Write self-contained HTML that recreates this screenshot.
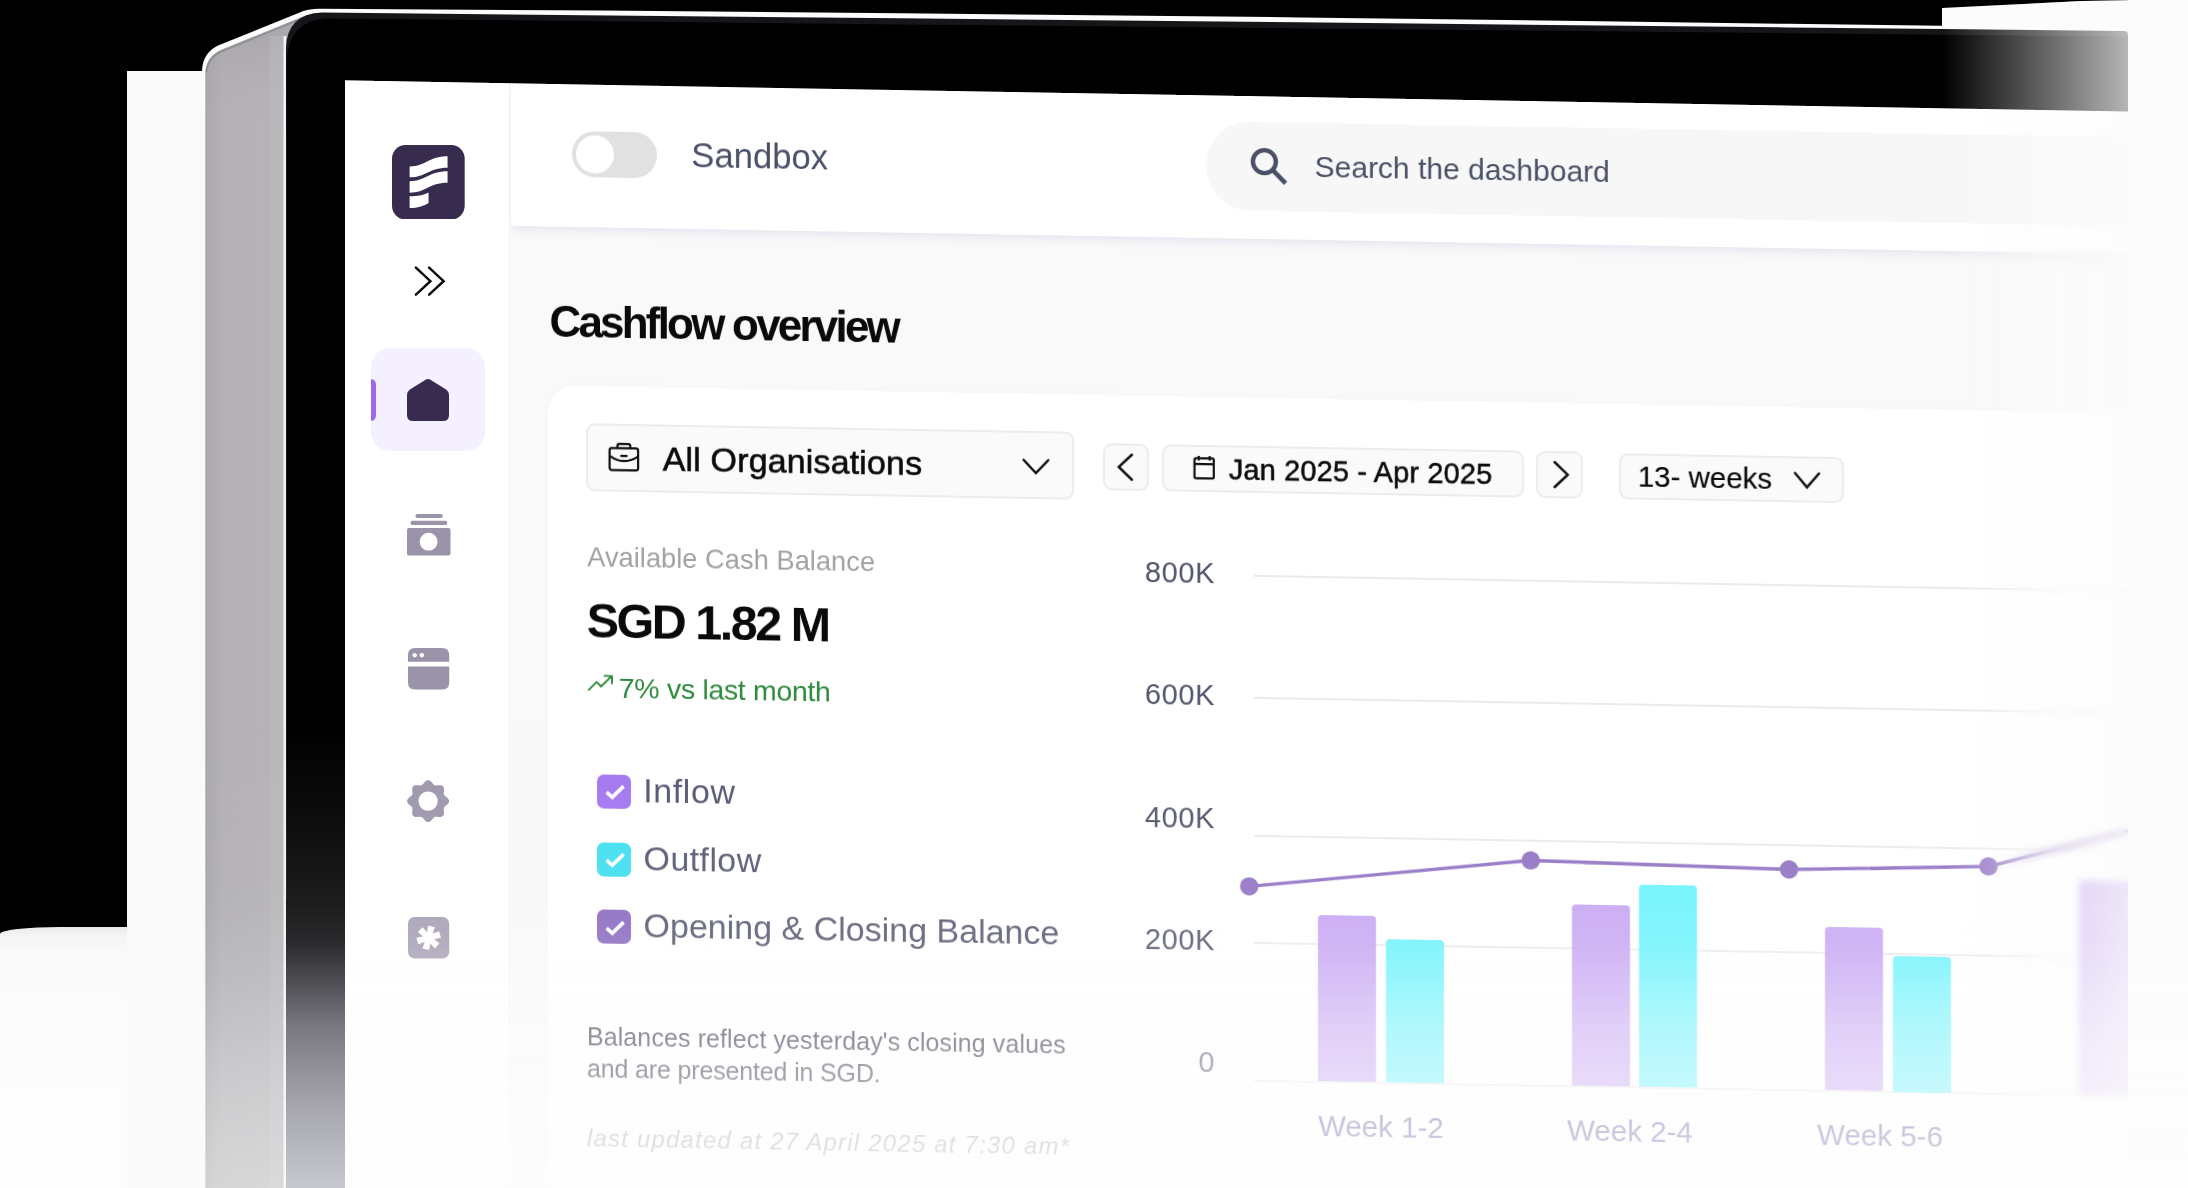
<!DOCTYPE html>
<html>
<head>
<meta charset="utf-8">
<style>
html,body{margin:0;padding:0;width:2188px;height:1188px;overflow:hidden;}
#stage{position:absolute;left:0;top:0;width:2188px;height:1188px;overflow:hidden;background:#000;}
body{width:2188px;height:1188px;overflow:hidden;position:relative;background:#000;font-family:"Liberation Sans",sans-serif;}
.abs{position:absolute;}
#screen{will-change:transform;position:absolute;left:345px;top:80px;width:1800px;height:1130px;transform-origin:0 0;transform:skewY(1deg);background:#fff;overflow:hidden;}
.t{position:absolute;white-space:nowrap;line-height:1;}
/* baseline helper: element top = baseline - 0.905*fs (Liberation Sans ascent .905, descent .212 ; with line-height:1 content box is centred) */
#sidebar{position:absolute;left:0;top:0;width:164px;height:1130px;background:#fff;border-right:1.5px solid #f1f1f3;}
#topbar{position:absolute;left:165.5px;top:0;width:1640px;height:142.8px;background:#fff;box-shadow:0 2px 10px rgba(125,115,185,0.19);}
#main{position:absolute;left:165.5px;top:140px;width:1640px;height:1004px;background:#f9f9f9;}
#card{position:absolute;left:203px;top:302px;width:1640px;height:900px;background:#fff;border-radius:28px;box-shadow:0 0 12px rgba(0,0,0,0.015);}
.btn{position:absolute;background:#fafafa;border:2px solid #ececec;border-radius:9px;box-sizing:border-box;}
.cb{position:absolute;width:34.2px;height:34px;border-radius:7px;margin-left:-0.5px;margin-top:-0.4px;}
.grid{position:absolute;left:909px;width:900px;height:2px;background:#ebebeb;}
.bar{position:absolute;width:58px;border-radius:4px 4px 0 0;}
.bp{background:#c7a6f3;}
.bc{background:#6cf3fc;}
.ylab{position:absolute;white-space:nowrap;line-height:1;font-size:29px;color:#50546c;text-align:right;width:120px;left:750px;letter-spacing:0.6px;}
.wk{position:absolute;white-space:nowrap;line-height:1;font-size:29.5px;color:#564c9a;}
.leg{position:absolute;white-space:nowrap;line-height:1;font-size:34px;color:#54576f;left:299.5px;letter-spacing:0.25px;}
</style>
</head>
<body>
<div id="stage">

<!-- background plates behind the laptop -->
<div class="abs" style="left:127px;top:71px;width:90px;height:1117px;background:#fafafa;"></div>
<div class="abs" style="left:0;top:927px;width:127px;height:261px;background:linear-gradient(to bottom,#e9e9e9 0px,#f4f4f4 8px,#f9f9f9 25px,#fbfbfb 70px,#fdfdfd 180px);border-radius:60px 0 0 0 / 7px 0 0 0;"></div>
<div class="abs" style="left:1942px;top:0;width:246px;height:1188px;background:#fcfcfc;clip-path:polygon(0 8px,40px 6px,140px 1px,246px 0,246px 1188px,0 1188px);"></div>

<!-- laptop body -->
<svg class="abs" style="left:0;top:0" width="2188" height="1188" viewBox="0 0 2188 1188">
  <defs>
    <linearGradient id="sideg" x1="0" y1="0" x2="1" y2="0">
      <stop offset="0" stop-color="#a9a7aa"/>
      <stop offset="0.12" stop-color="#b3b1b4"/>
      <stop offset="0.8" stop-color="#b7b5b8"/>
      <stop offset="0.82" stop-color="#c1bfc2"/>
      <stop offset="1" stop-color="#c6c4c7"/>
    </linearGradient>
    <linearGradient id="bezelg" x1="0" y1="900" x2="0" y2="1188" gradientUnits="userSpaceOnUse">
      <stop offset="0" stop-color="#000000"/>
      <stop offset="0.58" stop-color="#030012"/>
      <stop offset="1" stop-color="#020022"/>
    </linearGradient>
    <linearGradient id="sidetop" x1="0" y1="0" x2="0" y2="1">
      <stop offset="0" stop-color="#8c8a8e"/>
      <stop offset="1" stop-color="#b3b1b4" stop-opacity="0"/>
    </linearGradient>
  </defs>
  <!-- silver outline of the lid (top edge) -->
  <path d="M202 1188 L202 71 Q202.5 53.5 217.5 45.8 L298.5 12.9 Q308 8.6 320 8.7 L600 10.6 L900 13.2 L1300 17.4 L1600 21.2 L1788 23.8 L1942 25.8 L2128 28.3 L2128 40 L330 40 L330 110 L202 110 Z" fill="#fcfcfc"/>
  <!-- gray side -->
  <path d="M205.3 1188 L205.3 73 Q206 57.5 220 50.3 L301 17.2 Q309 13.3 320 13.2 L335 13.3 L335 110 L286 110 L286 1188 Z" fill="url(#sideg)"/>
  <!-- darker thin line under the top highlight -->
  <path d="M206.3 72 Q207.5 58.5 220.6 51.8 L301.5 18.8 Q306 16.6 312 16" fill="none" stroke="#6e6c72" stroke-width="1.6" opacity="0.55"/>
  <path d="M205.3 130 L205.3 73 Q206 57.5 220 50.3 L301 17.2 L310 16 L300 40 L286 60 L286 130 Z" fill="url(#sidetop)" opacity="0.35"/>
  <!-- bright edge line -->
  <rect x="283.4" y="36" width="2.7" height="1152" fill="#f2f2f4"/>
  <rect x="270" y="36" width="13.4" height="1152" fill="#c6c4c7" opacity="0.3"/>
  <!-- bezel -->
  <path d="M286 1188 L286 48 Q287 14 322 12.6 L900 18.3 L1300 22.3 L1788 27.4 L1942 29 L2124 31 Q2128 31 2128 35 L2128 130 L286 130 Z" fill="#16161a"/>
  <path d="M286.9 1188 L286.9 58 Q289.5 21.5 325 18.4 L900 24.4 L1300 28.4 L1788 33.2 L1942 34.8 L2128 36.8 L2128 1188 Z" fill="#000"/>
  <rect x="286" y="900" width="60" height="288" fill="url(#bezelg)"/>
</svg>

<!-- the screen (flat layout, skewed) -->
<div id="screen">
  <div id="main"></div>
  <div id="card"></div>
  <div id="topbar"></div>
  <div id="sidebar"></div>
  
  <!-- toggle -->
  <div class="abs" style="left:227px;top:46.8px;width:85px;height:46.5px;border-radius:24px;background:#e1e1e1;"></div>
  <div class="abs" style="left:231.3px;top:51px;width:38.2px;height:38.2px;border-radius:50%;background:#fff;"></div>
<div class="t" id="sandbox" style="left:346.2px;top:52.13px;font-size:34.7px;color:#4a5068;">Sandbox</div>

  <!-- search -->
  <div class="abs" style="left:861.3px;top:26.3px;width:1000px;height:88.4px;border-radius:44.2px;background:#f7f7f8;"></div>
  <svg class="abs" style="left:900.4px;top:46.7px" width="46" height="46" viewBox="0 0 46 46">
    <circle cx="19.4" cy="18.6" r="11.5" fill="none" stroke="#4a5066" stroke-width="4.4"/>
    <path d="M28.2 27.4 L40.6 39.8" stroke="#4a5066" stroke-width="4.6" stroke-linecap="butt"/>
  </svg>
<div class="t" id="search" style="left:969.6px;top:55.41px;font-size:30px;color:#4a5066;">Search the dashboard</div>

  <div class="t" id="title" style="left:204.4px;top:215.55px;font-size:44px;font-weight:bold;color:#0a0a0c;letter-spacing:-2.8px;">Cashflow overview</div>

  <!-- organisation dropdown -->
  <div class="btn" style="left:241px;top:339.3px;width:487.6px;height:67.8px;"></div>
  <svg class="abs" style="left:262px;top:356px" width="34" height="32" viewBox="0 0 34 32">
    <rect x="2.6" y="7.4" width="28.5" height="22" rx="2.2" fill="none" stroke="#111" stroke-width="2.2"/>
    <path d="M10.4 7.4 V5.2 Q10.4 3.1 12.5 3.1 H21.2 Q23.3 3.1 23.3 5.2 V7.4" fill="none" stroke="#111" stroke-width="2.2"/>
    <path d="M3 15.3 Q16.8 25 30.8 15.6" fill="none" stroke="#111" stroke-width="2.2"/>
    <path d="M14.2 15.1 H19.6" fill="none" stroke="#111" stroke-width="2.3" stroke-linecap="round"/>
  </svg>
<div class="t" id="allorg" style="left:317.7px;top:355.72px;font-size:34px;color:#0b0b0d;letter-spacing:0.15px;-webkit-text-stroke:0.6px #0b0b0d;">All Organisations</div>

  <svg class="abs" style="left:674px;top:362px" width="34" height="26" viewBox="0 0 34 26">
    <path d="M4.6 6 L16.9 19 L29.2 6" fill="none" stroke="#111" stroke-width="2.5" stroke-linecap="round" stroke-linejoin="miter"/>
  </svg>
  <!-- date nav -->
  <div class="btn" style="left:757.7px;top:350.2px;width:46.8px;height:46.6px;"></div>
  <svg class="abs" style="left:757.7px;top:350.2px" width="47" height="47" viewBox="0 0 47 47">
    <path d="M28.9 11 L15.8 23.4 L28.9 36" fill="none" stroke="#111" stroke-width="2.5" stroke-linecap="round" stroke-linejoin="miter"/>
  </svg>
  <div class="btn" style="left:816.9px;top:350.2px;width:362.3px;height:46.8px;"></div>
  <svg class="abs" style="left:846px;top:359px" width="26" height="27" viewBox="0 0 26 27">
    <rect x="3.5" y="4.3" width="19.3" height="20" rx="1.6" fill="none" stroke="#111" stroke-width="2.2"/>
    <path d="M3.5 10.2 H22.8 M7.8 2 V6.6 M18.6 2 V6.6" fill="none" stroke="#111" stroke-width="2.2"/>
  </svg>
<div class="t" id="daterange" style="left:883.8px;top:359.65px;font-size:29px;color:#0b0b0d;-webkit-text-stroke:0.5px #0b0b0d;letter-spacing:0.12px;">Jan 2025 - Apr 2025</div>

  <div class="btn" style="left:1191.3px;top:350.4px;width:47.2px;height:46.6px;"></div>
  <svg class="abs" style="left:1191.3px;top:350.4px" width="47" height="47" viewBox="0 0 47 47">
    <path d="M18.6 11 L31.7 23.4 L18.6 36" fill="none" stroke="#111" stroke-width="2.5" stroke-linecap="round" stroke-linejoin="miter"/>
  </svg>
  <div class="btn" style="left:1274.3px;top:350.6px;width:225px;height:46.2px;"></div>
<div class="t" id="weeks" style="left:1292.70px;top:359.13px;font-size:29.5px;color:#0b0b0d;-webkit-text-stroke:0.15px #0b0b0d;">13- weeks</div>

  <svg class="abs" style="left:1446px;top:362px" width="32" height="26" viewBox="0 0 32 26">
    <path d="M4 5.8 L16 19.8 L28 5.8" fill="none" stroke="#111" stroke-width="2.5" stroke-linecap="round" stroke-linejoin="miter"/>
  </svg>
<div class="t" id="avail" style="left:242.2px;top:458.79px;font-size:27.3px;color:#a2a2a4;">Available Cash Balance</div>
<div class="t" id="sgd" style="left:241.70px;top:512.14px;font-size:48.5px;font-weight:bold;color:#0a0a0c;letter-spacing:-2.5px;">SGD 1.82 M</div>

  <svg class="abs" style="left:242px;top:588px" width="28" height="22" viewBox="0 0 28 22">
    <path d="M1.8 17.6 L9.6 9.6 L14 14 L24.2 3.8 M17.6 3.4 H25 V10.8" fill="none" stroke="#2f8a3d" stroke-width="1.9" stroke-linecap="round" stroke-linejoin="round"/>
  </svg>
<div class="t" id="pct" style="left:274.8px;top:588.97px;font-size:28.5px;color:#2f8a3d;letter-spacing:-0.33px;margin-left:-1px;">7% vs last month</div>
  <div class="cb" style="left:252.6px;top:690.4px;background:#a477f0;"></div>
  <svg class="abs" style="left:252.6px;top:690.4px" width="34" height="33" viewBox="0 0 34 33"><path d="M8.6 17.6 L14.3 22.6 L25.6 11.4" fill="none" stroke="#fff" stroke-width="3.6" stroke-linecap="butt" stroke-linejoin="miter"/></svg>
  <div class="leg" id="leg0" style="letter-spacing:0.6px;margin-left:-1.4px;top:687.62px;">Inflow</div>
  <div class="cb" style="left:252.6px;top:758.2px;background:#3fdff0;"></div>
  <svg class="abs" style="left:252.6px;top:758.2px" width="34" height="33" viewBox="0 0 34 33"><path d="M8.6 17.6 L14.3 22.6 L25.6 11.4" fill="none" stroke="#fff" stroke-width="3.6" stroke-linecap="butt" stroke-linejoin="miter"/></svg>
  <div class="leg" id="leg1" style="margin-left:-1.00px;letter-spacing:0.4px;top:755.52px;">Outflow</div>
  <div class="cb" style="left:252.6px;top:825.7px;background:#8968bf;"></div>
  <svg class="abs" style="left:252.6px;top:825.7px" width="34" height="33" viewBox="0 0 34 33"><path d="M8.6 17.6 L14.3 22.6 L25.6 11.4" fill="none" stroke="#fff" stroke-width="3.6" stroke-linecap="butt" stroke-linejoin="miter"/></svg>
  <div class="leg" id="leg2" style="margin-left:-1.00px;letter-spacing:0px;top:823.22px;">Opening &amp; Closing Balance</div>
<div class="t" id="bal1" style="left:241.9px;top:939.94px;font-size:25px;color:#25253a;letter-spacing:0.1px;">Balances reflect yesterday's closing values</div>
<div class="t" id="bal2" style="left:241.9px;top:972.24px;font-size:25px;color:#25253a;letter-spacing:-0.15px;">and are presented in SGD.</div>
<div class="t" id="upd" style="left:241.9px;top:1042.18px;font-size:24px;color:#9b9ba6;font-style:italic;letter-spacing:1.2px;">last updated at 27 April 2025 at 7:30 am*</div>

    <div class="grid" style="top:478.8px;"></div>
  <div class="grid" style="top:601.4px;"></div>
  <div class="grid" style="top:738.8px;"></div>
  <div class="grid" style="top:846.0px;"></div>
  <div class="grid" style="top:983.5px;"></div>
  <div class="ylab" style="top:464.15px;">800K</div>
  <div class="ylab" style="top:586.25px;">600K</div>
  <div class="ylab" style="top:708.85px;">400K</div>
  <div class="ylab" style="top:831.15px;">200K</div>
  <div class="ylab" style="top:953.25px;">0</div>
  <div class="bar bp" style="left:973.1px;top:817.7px;height:166.8px;"></div>
  <div class="bar bc" style="left:1040.6px;top:841.2px;height:143.3px;"></div>
  <div class="bar bp" style="left:1226.6px;top:803.4px;height:181.1px;"></div>
  <div class="bar bc" style="left:1294.1px;top:782.2px;height:202.3px;"></div>
  <div class="bar bp" style="left:1480px;top:820.7px;height:163.8px;"></div>
  <div class="bar bc" style="left:1547.5px;top:848.5px;height:136.0px;"></div>
  <div class="bar bp" style="left:1733.5px;top:769.7px;height:214.8px;"></div>
  <svg class="abs" style="left:0;top:0" width="1800" height="1130" viewBox="0 0 1800 1130"><path d="M904.2 790.6 L1185.7 759.7 L1444 764.3 L1643.5 757.8 L1781.5 720.4 L1850 701.8" fill="none" stroke="#9273c4" stroke-width="3.4" stroke-linejoin="round"/><circle cx="904.2" cy="790.6" r="9.2" fill="#9273c4"/><circle cx="1185.7" cy="759.7" r="9.2" fill="#9273c4"/><circle cx="1444" cy="764.3" r="9.2" fill="#9273c4"/><circle cx="1643.5" cy="757.8" r="9.2" fill="#9273c4"/></svg>
  <div class="wk" style="left:973px;top:1014.01px;">Week 1-2</div>
  <div class="wk" style="left:1222.1px;top:1014.01px;">Week 2-4</div>
  <div class="wk" style="left:1472.1px;top:1014.01px;">Week 5-6</div>

</div>

<!-- anti-aliased bezel edge over the screen top -->
<svg class="abs" style="left:0;top:0" width="2188" height="130" viewBox="0 0 2188 130"><path d="M345 70 L2128 70 L2128 111.45 L345 80.3 Z" fill="#000"/></svg>

<!-- sidebar items (not skewed) -->
<div class="abs" id="sidelayer" style="left:345px;top:80px;width:164px;height:1108px;overflow:hidden;">
  <!-- logo -->
  <svg class="abs" style="left:47px;top:64.5px" width="72.7" height="74.5" viewBox="0 0 73 73.5" preserveAspectRatio="none">
    <rect x="0" y="0" width="73" height="73.5" rx="13.5" fill="#372b4e"/>
    <path d="M17.7 21.2 C34 21.2 37 11.2 55.8 11.2 L55.8 22.4 C37 22.4 34 31.9 17.7 31.9 Z" fill="#fff"/>
    <path d="M17.7 35.7 C34 35.7 37 26 55.8 26 L55.8 37.3 C37 37.3 34 47.1 17.7 47.1 Z" fill="#fff"/>
    <path d="M17.7 50.5 C26 50.5 31 49.5 36.7 46.8 L36.7 57.3 C31 60.5 26 62.2 17.7 62.2 Z" fill="#fff"/>
  </svg>
  <!-- collapse chevrons -->
  <svg class="abs" style="left:65.8px;top:182.7px" width="40" height="36" viewBox="0 0 40 36">
    <path d="M4.9 4.6 L19.4 18.2 L4.9 31.6 M18.1 4.6 L32.6 18.2 L18.1 31.6" fill="none" stroke="#0c0c0f" stroke-width="2.5" stroke-linecap="round" stroke-linejoin="miter"/>
  </svg>
  <!-- active nav -->
  <div class="abs" style="left:26px;top:268.1px;width:114.3px;height:103.4px;border-radius:19px;background:#f4f0ff;overflow:hidden;">
    <div class="abs" style="left:-6px;top:31.3px;width:11.4px;height:41.7px;border-radius:5.5px;background:#9b69ea;"></div>
  </div>
  <svg class="abs" style="left:62.4px;top:299px" width="42" height="42" viewBox="0 0 42 42">
    <path d="M18.2 0.9 Q21 -0.8 23.8 0.9 L39 10.6 Q42 12.6 42 16 L42 36 Q42 42 36 42 L6 42 Q0 42 0 36 L0 16 Q0 12.6 3 10.6 Z" fill="#382b4f"/>
  </svg>
  <!-- icon: money stack -->
  <svg class="abs" style="left:61.5px;top:433.5px" width="44" height="42" viewBox="0 0 44 42">
    <rect x="8.4" y="0" width="27.4" height="4" rx="2" fill="#9b93a9"/>
    <rect x="3.5" y="6.7" width="36.8" height="4.3" rx="2.1" fill="#9b93a9"/>
    <path fill-rule="evenodd" d="M2 13.9 H41.5 Q43.5 13.9 43.5 15.9 V39.5 Q43.5 41.5 41.5 41.5 H2 Q0 41.5 0 39.5 V15.9 Q0 13.9 2 13.9 Z M21.6 18.8 a8.9 8.9 0 1 0 0.01 0 Z" fill="#9b93a9"/>
  </svg>
  <!-- icon: window -->
  <svg class="abs" style="left:62.7px;top:567.8px" width="42" height="42" viewBox="0 0 42 42">
    <path fill-rule="evenodd" d="M7 0 H34.2 Q41.2 0 41.2 7 V13.8 H0 V7 Q0 0 7 0 Z M6.7 4.9 a2.25 2.25 0 1 0 0.01 0 Z M13.8 4.9 a2.25 2.25 0 1 0 0.01 0 Z" fill="#9b93a9"/>
    <path d="M0 18.5 H41.2 V34.6 Q41.2 41.6 34.2 41.6 H7 Q0 41.6 0 34.6 Z" fill="#9b93a9"/>
  </svg>
  <!-- icon: gear -->
  <svg class="abs" style="left:61.5px;top:699.9px" width="42.2" height="42.2" viewBox="-21.1 -21.1 42.2 42.2">
    <path fill-rule="evenodd" fill="#9e97ac" d="M0.00 -21.00 L0.66 -20.93 L1.30 -20.72 L1.93 -20.39 L2.52 -19.96 L3.08 -19.44 L3.60 -18.88 L4.09 -18.29 L4.55 -17.72 L4.99 -17.18 L5.43 -16.70 L5.87 -16.31 L6.34 -16.01 L6.84 -15.80 L7.38 -15.68 L7.97 -15.65 L8.62 -15.68 L9.31 -15.74 L10.04 -15.83 L10.80 -15.90 L11.57 -15.93 L12.33 -15.90 L13.06 -15.78 L13.73 -15.58 L14.33 -15.26 L14.85 -14.85 L15.26 -14.33 L15.58 -13.73 L15.78 -13.06 L15.90 -12.33 L15.93 -11.57 L15.90 -10.80 L15.83 -10.04 L15.74 -9.31 L15.68 -8.62 L15.65 -7.97 L15.68 -7.38 L15.80 -6.84 L16.01 -6.34 L16.31 -5.87 L16.70 -5.43 L17.18 -4.99 L17.72 -4.55 L18.29 -4.09 L18.88 -3.60 L19.44 -3.08 L19.96 -2.52 L20.39 -1.93 L20.72 -1.30 L20.93 -0.66 L21.00 -0.00 L20.93 0.66 L20.72 1.30 L20.39 1.93 L19.96 2.52 L19.44 3.08 L18.88 3.60 L18.29 4.09 L17.72 4.55 L17.18 4.99 L16.70 5.43 L16.31 5.87 L16.01 6.34 L15.80 6.84 L15.68 7.38 L15.65 7.97 L15.68 8.62 L15.74 9.31 L15.83 10.04 L15.90 10.80 L15.93 11.57 L15.90 12.33 L15.78 13.06 L15.58 13.73 L15.26 14.33 L14.85 14.85 L14.33 15.26 L13.73 15.58 L13.06 15.78 L12.33 15.90 L11.57 15.93 L10.80 15.90 L10.04 15.83 L9.31 15.74 L8.62 15.68 L7.97 15.65 L7.38 15.68 L6.84 15.80 L6.34 16.01 L5.87 16.31 L5.43 16.70 L4.99 17.18 L4.55 17.72 L4.09 18.29 L3.60 18.88 L3.08 19.44 L2.52 19.96 L1.93 20.39 L1.30 20.72 L0.66 20.93 L0.00 21.00 L-0.66 20.93 L-1.30 20.72 L-1.93 20.39 L-2.52 19.96 L-3.08 19.44 L-3.60 18.88 L-4.09 18.29 L-4.55 17.72 L-4.99 17.18 L-5.43 16.70 L-5.87 16.31 L-6.34 16.01 L-6.84 15.80 L-7.38 15.68 L-7.97 15.65 L-8.62 15.68 L-9.31 15.74 L-10.04 15.83 L-10.80 15.90 L-11.57 15.93 L-12.33 15.90 L-13.06 15.78 L-13.73 15.58 L-14.33 15.26 L-14.85 14.85 L-15.26 14.33 L-15.58 13.73 L-15.78 13.06 L-15.90 12.33 L-15.93 11.57 L-15.90 10.80 L-15.83 10.04 L-15.74 9.31 L-15.68 8.62 L-15.65 7.97 L-15.68 7.38 L-15.80 6.84 L-16.01 6.34 L-16.31 5.87 L-16.70 5.43 L-17.18 4.99 L-17.72 4.55 L-18.29 4.09 L-18.88 3.60 L-19.44 3.08 L-19.96 2.52 L-20.39 1.93 L-20.72 1.30 L-20.93 0.66 L-21.00 0.00 L-20.93 -0.66 L-20.72 -1.30 L-20.39 -1.93 L-19.96 -2.52 L-19.44 -3.08 L-18.88 -3.60 L-18.29 -4.09 L-17.72 -4.55 L-17.18 -4.99 L-16.70 -5.43 L-16.31 -5.87 L-16.01 -6.34 L-15.80 -6.84 L-15.68 -7.38 L-15.65 -7.97 L-15.68 -8.62 L-15.74 -9.31 L-15.83 -10.04 L-15.90 -10.80 L-15.93 -11.57 L-15.90 -12.33 L-15.78 -13.06 L-15.58 -13.73 L-15.26 -14.33 L-14.85 -14.85 L-14.33 -15.26 L-13.73 -15.58 L-13.06 -15.78 L-12.33 -15.90 L-11.57 -15.93 L-10.80 -15.90 L-10.04 -15.83 L-9.31 -15.74 L-8.62 -15.68 L-7.97 -15.65 L-7.38 -15.68 L-6.84 -15.80 L-6.34 -16.01 L-5.87 -16.31 L-5.43 -16.70 L-4.99 -17.18 L-4.55 -17.72 L-4.09 -18.29 L-3.60 -18.88 L-3.08 -19.44 L-2.52 -19.96 L-1.93 -20.39 L-1.30 -20.72 L-0.66 -20.93 L-0.00 -21.00 Z M0 -9.6 a9.6 9.6 0 1 0 0.01 0 Z"/>
  </svg>
  <!-- icon: asterisk box -->
  <svg class="abs" style="left:62.7px;top:836.5px" width="42" height="42" viewBox="0 0 42 42">
    <rect x="0" y="0" width="41.2" height="41.5" rx="6.5" fill="#a49db2"/>
    <g transform="translate(20.7 20.8) rotate(14)" fill="#fff">
      <path d="M-2.6 0 L-3.4 -11.8 L3.4 -11.8 L2.6 0 L3.4 11.8 L-3.4 11.8 Z"/>
      <path d="M-2.6 0 L-3.4 -11.8 L3.4 -11.8 L2.6 0 L3.4 11.8 L-3.4 11.8 Z" transform="rotate(60)"/>
      <path d="M-2.6 0 L-3.4 -11.8 L3.4 -11.8 L2.6 0 L3.4 11.8 L-3.4 11.8 Z" transform="rotate(120)"/>
    </g>
  </svg>

  
</div>

<!-- fades -->
<div class="abs" id="blurR" style="left:1990px;top:112px;width:138px;height:1076px;backdrop-filter:blur(3.5px);-webkit-backdrop-filter:blur(3.5px);-webkit-mask-image:linear-gradient(to right,rgba(0,0,0,0) 0,rgba(0,0,0,1) 70px);mask-image:linear-gradient(to right,rgba(0,0,0,0) 0,rgba(0,0,0,1) 70px);"></div>
<div class="abs" id="fadeR" style="left:1942px;top:0;width:186px;height:1188px;background:linear-gradient(to right,rgba(252,252,252,0) 0,rgba(252,252,252,0.72) 100%);clip-path:polygon(0 8px,40px 6px,140px 1px,186px 0,186px 1188px,0 1188px);"></div>
<div class="abs" style="left:2128px;top:0;width:60px;height:1188px;background:#fcfcfc;"></div>
<div class="abs" id="fadeB" style="left:286px;top:700px;width:1902px;height:488px;background:linear-gradient(to bottom,rgba(253,253,253,0) 20px,rgba(253,253,253,0.05) 120px,rgba(253,253,253,0.11) 200px,rgba(253,253,253,0.16) 240px,rgba(253,253,253,0.31) 283px,rgba(253,253,253,0.47) 325px,rgba(253,253,253,0.57) 367px,rgba(253,253,253,0.66) 409px,rgba(253,253,253,0.73) 451px,rgba(253,253,253,0.79) 488px);"></div>
<div class="abs" id="fadeB2" style="left:202px;top:700px;width:84px;height:488px;background:linear-gradient(to bottom,rgba(253,253,253,0) 20px,rgba(253,253,253,0.04) 198px,rgba(253,253,253,0.15) 283px,rgba(253,253,253,0.31) 367px,rgba(253,253,253,0.44) 451px,rgba(253,253,253,0.49) 488px);"></div>

</div>
</body>
</html>
